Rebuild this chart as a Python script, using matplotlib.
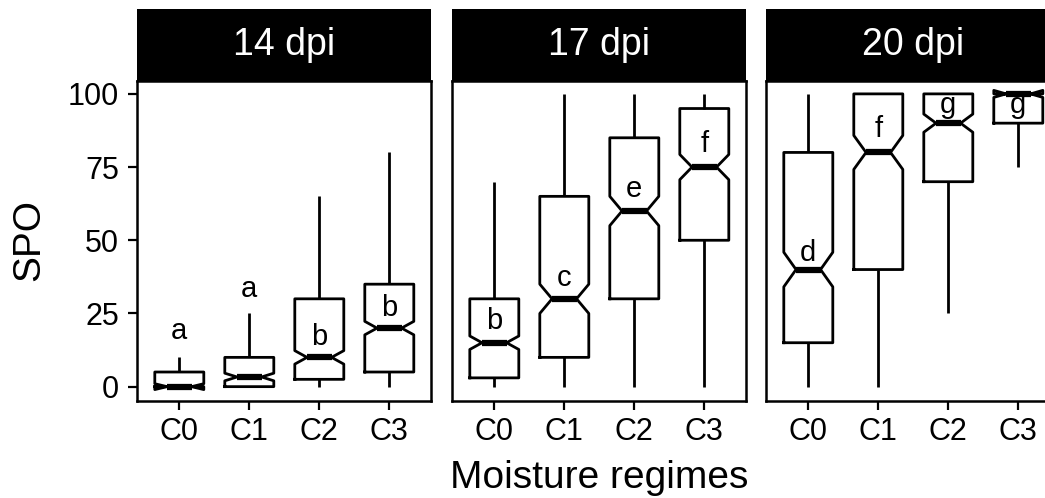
import matplotlib
matplotlib.use("Agg")
import matplotlib.pyplot as plt

plt.rcParams['font.family'] = ['Liberation Sans', 'DejaVu Sans']

# Summary statistics of SPO per moisture regime at each sampling time
panels = ["14 dpi", "17 dpi", "20 dpi"]
regimes = ["C0", "C1", "C2", "C3"]

whis_lo = [[0, 0, 0, 0], [0, 0, 0, 0], [0, 0, 25, 75]]
q1 = [[0, 0, 2.5, 5], [3, 10, 30, 50], [15, 40, 70, 90]]
median = [[0, 3.3, 10, 20], [15, 30, 60, 75], [40, 80, 90, 100]]
q3 = [[5, 10, 30, 35], [30, 65, 85, 95], [80, 100, 100, 100]]
whis_hi = [[10, 25, 65, 80], [70, 100, 100, 100], [100, 100, 100, 100]]
# notch half-heights (confidence interval around the median)
notch_half = [[1.0, 1.3, 2.3, 2.3], [2.3, 5.0, 5.0, 4.3], [5.9, 5.8, 3.1, 1.2]]

# Compact letter display (Tukey groups) and their vertical positions
letters = [["a", "a", "b", "b"], ["b", "c", "e", "f"], ["d", "f", "g", "g"]]
letter_y = [[16.2, 30.7, 14.2, 24.2], [19.6, 34.4, 64.7, 80.0], [43.0, 85.4, 93.4, 93.4]]

W, H = 1045, 498
fig = plt.figure(figsize=(W / 100, H / 100), dpi=100)

panel_left = [137.3, 452.3, 766.3]
panel_w = 294.0
panel_bottom = H - 400.7
panel_h = 400.7 - 81
strip_h = 72

lw = 2.0
for i, name in enumerate(panels):
    ax = fig.add_axes([panel_left[i] / W, panel_bottom / H, panel_w / W, panel_h / H])
    stats = []
    for j in range(4):
        stats.append(dict(
            med=median[i][j], q1=q1[i][j], q3=q3[i][j],
            whislo=whis_lo[i][j], whishi=whis_hi[i][j],
            cilo=median[i][j] - notch_half[i][j],
            cihi=median[i][j] + notch_half[i][j],
            fliers=[]))
    ax.bxp(stats, positions=[1, 2, 3, 4], widths=0.7, shownotches=True,
           showfliers=False, showcaps=False,
           boxprops=dict(color="black", linewidth=lw),
           whiskerprops=dict(color="black", linewidth=lw, solid_capstyle="butt"),
           medianprops=dict(color="black", linewidth=4.5, solid_capstyle="butt"))
    for j in range(4):
        ax.text(j + 1, letter_y[i][j], letters[i][j], ha="center", va="baseline",
                fontsize=21, color="black")

    ax.set_xlim(0.4, 4.6)
    ax.set_ylim(-4.8, 104.4)
    ax.set_xticks([1, 2, 3, 4])
    ax.set_xticklabels(regimes)
    ax.set_yticks([0, 25, 50, 75, 100])
    for s in ax.spines.values():
        s.set_linewidth(1.8)
        s.set_color("black")
    ax.tick_params(axis="both", direction="out", length=6.5, width=1.6,
                   labelsize=22, colors="black")
    ax.tick_params(axis="y", pad=6.5)
    ax.tick_params(axis="x", pad=5)
    if i > 0:
        ax.tick_params(axis="y", left=False, labelleft=False)

    # facet strip
    sax = fig.add_axes([panel_left[i] / W, (H - 81) / H, panel_w / W, strip_h / H])
    sax.set_facecolor("black")
    sax.set_xticks([])
    sax.set_yticks([])
    for s in sax.spines.values():
        s.set_visible(False)
    sax.text(0.5, 0.5, name, transform=sax.transAxes, ha="center", va="center",
             color="white", fontsize=27)

fig.text(599 / W, 1 - 488.3 / H, "Moisture regimes", ha="center", va="baseline",
         fontsize=28)
fig.text(47 / W, 1 - 240 / H, "SPO", ha="right", va="center", rotation=90,
         fontsize=28)

fig.savefig("out.png", dpi=100)
